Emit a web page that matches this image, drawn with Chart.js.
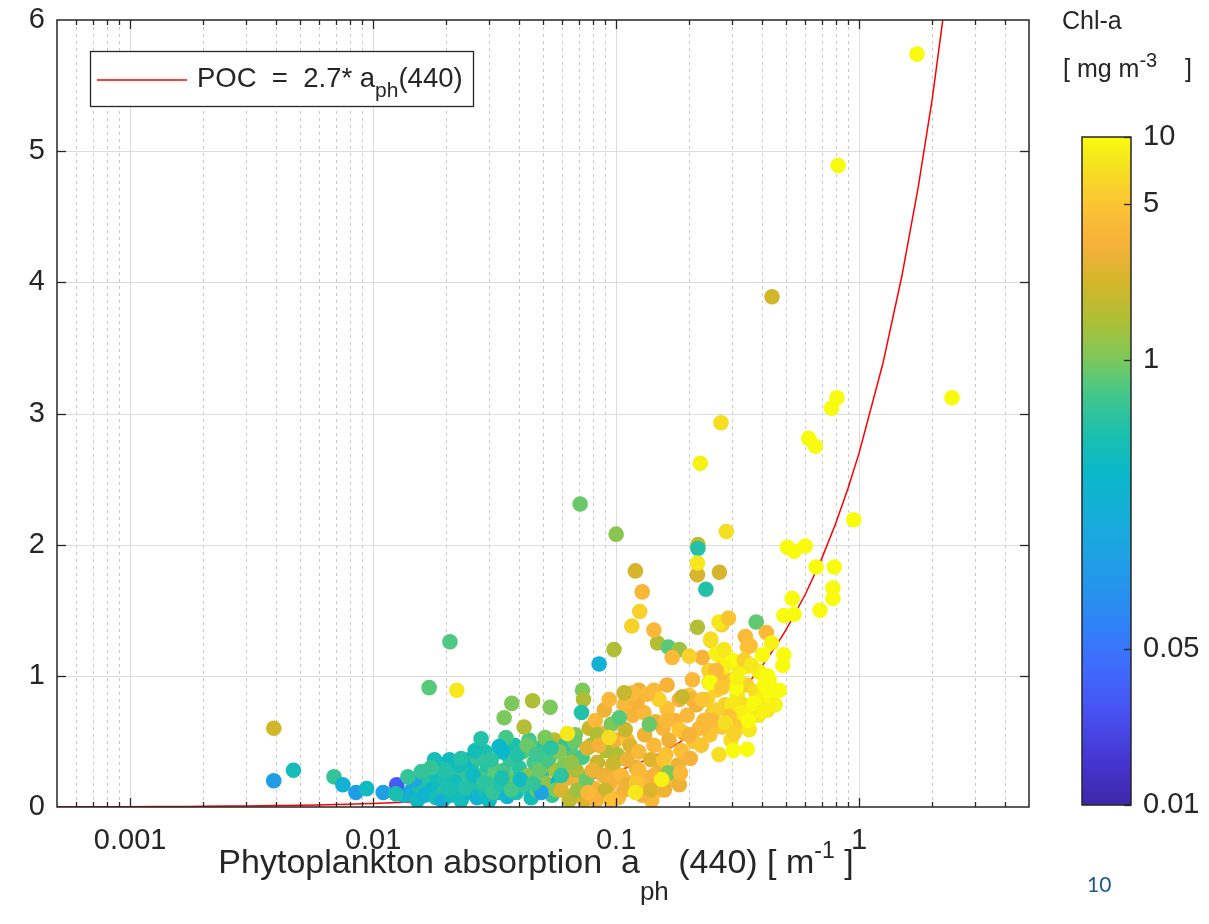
<!DOCTYPE html>
<html>
<head>
<meta charset="utf-8">
<title>POC vs phytoplankton absorption</title>
<script src="https://cdn.jsdelivr.net/npm/chart.js@4.4.1/dist/chart.umd.min.js"></script>
<style>
  html, body { margin: 0; padding: 0; background: #ffffff; }
  #wrap { position: relative; width: 1209px; height: 924px; overflow: hidden; }
  #main { position: absolute; left: 0; top: 0; }
  #cbar { position: absolute; left: 1040px; top: 100px; }
</style>
</head>
<body>
<div id="wrap">
  <canvas id="main" width="1209" height="924"></canvas>
  <canvas id="cbar" width="169" height="760"></canvas>
</div>
<script>
// ---- samples: a_ph(440) [m^-1], POC, Chl-a [mg m^-3] ----
const aph = [
  // 0.013 - 0.02
  0.0134,0.0144,0.0152,0.0155,0.0163,0.0168,0.0174,0.0182,0.0187,0.0195,0.0148,0.0158,0.0183,0.0193,
  // 0.02 - 0.033
  0.0199,0.0208,0.0215,0.0221,0.0230,0.0237,0.0243,0.0253,0.0260,0.0268,0.0278,0.0286,0.0294,0.0300,0.0309,0.0318,0.0327,0.0289,0.0248,0.0226,0.0206,0.0268,
  0.0197,0.0217,0.0239,0.0258,0.0284,0.0312,
  // 0.033 - 0.058
  0.0336,0.0346,0.0356,0.0366,0.0377,0.0388,0.0399,0.0411,0.0422,0.0434,0.0447,0.0460,0.0473,0.0487,0.0500,0.0515,0.0530,0.0545,0.0561,0.0577,0.0381,0.0438,0.0505,0.0556,0.0340,0.0492,
  0.0339,0.0370,0.0403,0.0456,0.0482,0.0520,0.0566,
  // 0.058 - 0.10
  0.0594,0.0611,0.0629,0.0647,0.0666,0.0685,0.0705,0.0725,0.0746,0.0768,0.0790,0.0813,0.0837,0.0861,0.0886,0.0911,0.0937,0.0964,0.0992,0.102,0.0617,0.0679,0.0775,0.0878,0.0955,0.0821,0.0739,0.0641,
  0.0594,0.0654,0.0692,0.0753,0.0798,0.0902,0.0983,0.101,
  // dense band
  0.0230,0.0263,0.0306,0.0352,0.0392,0.0430,0.0469,0.0583,0.0673,0.0761,0.0837,0.0894,0.108,0.124,0.143,0.162,0.0851,0.111,0.0983,0.124,0.140,0.0829,0.0955,0.0206,0.0179,
  // 0.10 - 0.22
  0.105,0.108,0.111,0.114,0.118,0.121,0.124,0.128,0.131,0.135,0.139,0.143,0.147,0.151,0.156,0.160,0.165,0.170,0.175,0.180,0.185,0.191,0.196,0.202,0.208,0.214,0.220,0.109,0.117,0.130,0.145,0.162,0.182,0.200,0.122,0.150,0.182,
  0.111,0.130,0.139,0.158,
  // 0.22 - 0.47
  0.224,0.230,0.237,0.243,0.250,0.258,0.265,0.272,0.281,0.289,0.297,0.306,0.315,0.324,0.334,0.344,0.353,0.364,0.374,0.385,0.396,0.407,0.419,0.435,0.451,0.241,0.278,0.321,0.388,0.426,0.469,
  0.300,0.330,0.292,0.258,0.248,0.226,0.241,0.265,0.312,0.344,0.347,0.272,0.245,0.265,0.300,0.278,0.226,0.369,
  // upper part of the cloud
  0.148,0.164,0.182,0.170,0.200,0.245,0.340,0.356,0.258,0.278,0.337,0.360,0.258,0.315,0.245,0.272,0.206,0.206,0.226,0.187,0.150,0.134,0.117,0.0936,0.108,0.137,0.103,0.350,0.400,0.281,0.306,0.161,0.182,0.200,0.124,0.143,0.157,0.164,0.184,0.154,0.121,0.120,0.0768,
  // scattered low-absorption stations
  0.0039,0.0039,0.0047,0.0069,0.0075,0.0085,0.0094,0.0110,0.0126,0.0125,0.0124,0.0139,0.0170,0.0173,0.0207,0.0221,0.0278,0.0372,0.0346,0.0453,0.0418,0.0510,0.0330,0.0851,0.0980,0.0727,0.0734,0.0720,0.0630,0.0936,0.0540,0.0535,
  // high POC stations
  1.73,0.82,0.438,2.41,0.81,0.77,0.62,0.66,0.27,0.222,0.0711,0.100,0.284,0.217,0.217,0.216,0.216,0.266,0.234,0.120,0.128,0.125,0.116,0.143,0.216,0.265,0.290,0.377,0.95,
  0.506,0.54,0.60,0.665,0.79,0.78,0.78,0.69,0.53,0.49,0.54,
  0.415,0.436,0.40,0.49,0.485,0.42,0.303,0.346
];
const poc = [
  0.09,0.13,0.05,0.16,0.09,0.21,0.13,0.07,0.17,0.11,0.21,0.27,0.24,0.05,
  0.21,0.09,0.28,0.14,0.05,0.22,0.11,0.30,0.17,0.07,0.24,0.13,0.32,0.05,0.19,0.28,0.11,0.42,0.36,0.32,0.36,0.37,
  0.28,0.19,0.14,0.24,0.18,0.11,
  0.17,0.28,0.08,0.36,0.21,0.11,0.30,0.42,0.16,0.24,0.07,0.34,0.13,0.45,0.27,0.18,0.37,0.09,0.28,0.19,0.47,0.51,0.47,0.51,0.42,0.11,
  0.22,0.13,0.21,0.18,0.28,0.36,0.13,
  0.13,0.32,0.22,0.43,0.09,0.28,0.17,0.38,0.07,0.24,0.47,0.14,0.34,0.09,0.24,0.43,0.17,0.32,0.51,0.07,0.47,0.55,0.60,0.56,0.63,0.66,0.05,0.05,
  0.24,0.34,0.13,0.21,0.28,0.13,0.22,0.40,
  0.37,0.43,0.36,0.53,0.40,0.47,0.40,0.42,0.50,0.45,0.55,0.74,0.78,0.89,0.89,0.93,0.47,0.51,0.34,0.13,0.05,0.05,0.05,0.13,0.36,
  0.24,0.13,0.36,0.47,0.19,0.30,0.42,0.09,0.55,0.22,0.36,0.47,0.15,0.28,0.60,0.40,0.51,0.21,0.66,0.32,0.43,0.56,0.70,0.37,0.50,0.78,0.60,0.59,0.70,0.72,0.65,0.75,0.82,0.85,0.80,0.13,0.17,
  0.17,0.17,0.13,0.13,
  0.47,0.66,0.82,0.55,0.72,0.89,0.40,0.61,0.78,0.97,0.51,0.68,0.85,0.62,0.78,0.93,0.59,0.74,0.88,0.70,0.82,0.93,0.74,0.85,0.78,1.04,1.12,1.06,1.03,0.97,0.89,
  0.78,0.72,0.69,0.74,0.66,0.61,0.95,0.99,0.91,1.07,1.22,1.39,1.27,1.16,1.12,1.07,1.14,0.79,
  1.25,1.22,1.20,1.14,1.15,1.28,1.30,1.23,1.17,1.20,1.12,1.08,1.04,0.99,0.95,0.91,0.97,0.82,0.82,0.84,0.82,0.86,0.87,0.82,0.87,0.63,0.68,0.66,0.73,0.64,0.56,0.66,0.59,0.55,0.28,0.24,0.36,0.26,0.26,0.21,0.18,0.11,0.11,
  0.20,0.60,0.28,0.23,0.17,0.11,0.14,0.11,0.11,0.17,0.10,0.23,0.91,0.30,1.26,0.89,0.52,0.79,0.68,0.81,0.61,0.53,0.46,1.09,1.20,0.89,0.82,0.72,0.56,0.53,0.45,0.76,
  5.74,4.89,3.89,3.12,3.12,3.04,2.81,2.75,2.93,2.62,2.31,2.08,2.10,2.00,1.97,1.77,1.86,1.79,1.66,1.80,1.64,1.49,1.38,1.35,1.37,1.41,1.44,1.41,2.19,
  1.98,1.95,1.99,1.83,1.83,1.67,1.59,1.50,1.59,1.46,1.47,
  1.33,1.25,1.16,1.16,1.08,1.00,0.43,0.44
];
const chl = [
  0.3,0.2,0.35,0.45,0.25,0.5,0.3,0.4,0.35,0.5,0.15,0.6,0.4,0.2,
  0.45,0.35,0.55,0.3,0.4,0.6,0.3,0.45,0.5,0.25,0.7,0.4,0.5,0.35,0.6,0.8,0.4,0.45,0.3,0.4,0.35,0.6,
  0.5,0.4,0.5,0.35,0.55,0.6,
  0.5,0.7,0.25,0.6,0.9,0.45,0.55,0.8,0.6,1.1,0.4,0.7,0.9,1.0,0.5,1.2,0.8,0.6,1.4,0.3,0.45,0.7,0.6,1.8,0.3,0.15,
  0.45,0.7,0.35,0.6,0.9,0.7,1.0,
  2.5,1.0,3.0,0.8,2.0,1.5,3.5,0.7,3.0,2.5,1.2,3.5,2.0,4.0,3.0,1.5,3.5,2.5,3.0,4.0,0.6,1.0,2.0,3.5,1.0,4.0,2.5,1.8,
  0.55,1.2,1.3,0.9,3.0,2.0,3.5,1.5,
  0.5,0.4,0.55,0.7,0.5,0.9,0.65,1.1,0.9,2.5,1.5,3.0,4.0,3.0,4.0,3.5,3.5,4.5,2.0,3.0,4.0,3.5,4.5,0.45,0.4,
  4.0,3.5,3.0,2.5,4.5,3.0,4.0,3.5,3.0,4.0,2.5,4.0,3.5,3.0,3.5,4.5,3.0,4.0,3.5,3.0,4.5,2.5,4.0,3.5,5.0,3.0,4.0,2.0,3.5,4.0,3.0,4.5,3.5,5.0,3.5,4.5,3.0,
  3.0,4.0,2.5,3.0,
  5,4,6,5,4.5,6,7,5,6,5,7,6,8,5.5,7,6,8,9,7,8,9,10,8,10,9,6,7,8,9,10,10,
  8,9,5,6,4,4,8,4,10,9,5,6,6,8,10,9,3.5,10,
  1.6,0.8,1.3,4,6,7,4,4.5,9,8,6,8,4,9,10,5,4,3.5,5,2,6,4,4,4,2,0.9,0.8,10,9,7,6,4,5,3.5,4,3.5,5,1.0,4,9,5,8,4,
  0.12,2.2,0.4,0.6,0.22,0.12,0.35,0.13,0.12,0.03,0.45,0.6,0.8,0.6,0.75,8,0.5,1.0,1.0,1.5,1.6,1.0,0.3,0.22,1.5,1.0,1.5,0.5,8,7,0.55,1.0,
  10,10,2.2,10,10,10,10,10,7,9,0.9,1.1,7,1.8,0.5,2.3,8,2.3,0.5,2.3,3.8,6,6,4,1.6,8,5,0.85,10,
  10,10,10,10,10,10,10,10,10,10,10,
  4,9,10,10,10,10,10,10
];

// Linear fit POC = 2.7 * a_ph(440)
const FIT_SLOPE = 2.7;
const fitMultiples = [1, 1.25, 1.5, 1.75, 2, 2.5, 3, 3.5, 4, 4.5, 5, 6, 7, 8, 9];
const fitDecades = [0.0001, 0.001, 0.01, 0.1, 1];

// Axis ticks
const xTickValues = [0.001, 0.01, 0.1, 1];
const xTickLabels = ['0.001', '0.01', '0.1', '1'];
const cbTickValues = [0.01, 0.05, 1, 5, 10];
const cbTickLabels = ['0.01', '0.05', '1', '5', '10'];

// Parula-like colour map: position (0..1), r, g, b
const PARULA = [
  [0.00, 62, 38, 168],
  [0.07, 70, 55, 212],
  [0.14, 71, 82, 242],
  [0.21, 62, 108, 253],
  [0.28, 46, 134, 246],
  [0.35, 34, 155, 232],
  [0.42, 24, 172, 220],
  [0.50, 10, 184, 200],
  [0.56, 30, 192, 172],
  [0.62, 72, 200, 135],
  [0.667, 124, 200, 90],
  [0.72, 170, 192, 56],
  [0.78, 210, 182, 42],
  [0.84, 246, 177, 58],
  [0.88, 252, 189, 55],
  [0.92, 250, 206, 45],
  [0.96, 245, 228, 30],
  [1.00, 249, 251, 14]
];

const FONT = '"Liberation Sans", Arial, Helvetica, sans-serif';
const INK = '#262626';
const TICK_SIZE = 29;

function parula(t) {
  t = Math.max(0, Math.min(1, t));
  for (let i = 1; i < PARULA.length; i++) {
    const a = PARULA[i - 1], b = PARULA[i];
    if (t <= b[0]) {
      const f = (t - a[0]) / (b[0] - a[0]);
      const c = [1, 2, 3].map(k => Math.round(a[k] + (b[k] - a[k]) * f));
      return 'rgb(' + c.join(',') + ')';
    }
  }
  const l = PARULA[PARULA.length - 1];
  return 'rgb(' + l[1] + ',' + l[2] + ',' + l[3] + ')';
}
const chlToColor = c => parula((Math.log10(c) + 2) / 3);

const n = Math.min(aph.length, poc.length, chl.length);
const points = [];
const pointColors = [];
for (let i = 0; i < n; i++) {
  points.push({ x: aph[i], y: poc[i] });
  pointColors.push(chlToColor(chl[i]));
}
const fitPoints = [];
fitDecades.forEach(d => fitMultiples.forEach(m => {
  const x = m * d;
  if (x >= 0.0005 && x <= 2.5) fitPoints.push({ x: x, y: FIT_SLOPE * x });
}));

// Draws text pieces with sub/superscripts
function richText(ctx, parts, x, y, align) {
  let w = 0;
  parts.forEach(p => { ctx.font = p.size + 'px ' + FONT; w += ctx.measureText(p.t).width; });
  let cx = align === 'center' ? x - w / 2 : x;
  ctx.textBaseline = 'alphabetic';
  ctx.textAlign = 'left';
  parts.forEach(p => {
    ctx.font = p.size + 'px ' + FONT;
    ctx.fillText(p.t, cx, y + (p.dy || 0));
    cx += ctx.measureText(p.t).width;
  });
  return w;
}

const axesFrame = {
  id: 'axesFrame',
  beforeDatasetsDraw(chart) {
    const { ctx, chartArea: a, scales: { x, y } } = chart;
    ctx.save();
    // minor log grid (dotted)
    ctx.strokeStyle = '#c8c8c8';
    ctx.lineWidth = 1;
    ctx.setLineDash([3, 4]);
    for (let e = -4; e <= 0; e++) {
      for (let k = 2; k <= 9; k++) {
        const v = k * Math.pow(10, e);
        if (v <= x.min * 1.0001 || v >= x.max * 0.9999) continue;
        const px = Math.round(x.getPixelForValue(v)) + 0.5;
        ctx.beginPath(); ctx.moveTo(px, a.top); ctx.lineTo(px, a.bottom); ctx.stroke();
      }
    }
    // major grid (solid)
    ctx.setLineDash([]);
    ctx.strokeStyle = '#dcdcdc';
    xTickValues.forEach(v => {
      const px = Math.round(x.getPixelForValue(v)) + 0.5;
      ctx.beginPath(); ctx.moveTo(px, a.top); ctx.lineTo(px, a.bottom); ctx.stroke();
    });
    for (let v = 1; v < 6; v++) {
      const py = Math.round(y.getPixelForValue(v)) + 0.5;
      ctx.beginPath(); ctx.moveTo(a.left, py); ctx.lineTo(a.right, py); ctx.stroke();
    }
    ctx.restore();
  },
  afterDatasetsDraw(chart) {
    const { ctx, chartArea: a, scales: { x, y } } = chart;
    ctx.save();
    ctx.strokeStyle = INK;
    ctx.lineWidth = 1.5;
    ctx.strokeRect(a.left, a.top, a.right - a.left, a.bottom - a.top);
    ctx.lineWidth = 1.3;
    const tick = (x1, y1, x2, y2) => { ctx.beginPath(); ctx.moveTo(x1, y1); ctx.lineTo(x2, y2); ctx.stroke(); };
    for (let e = -4; e <= 0; e++) {
      for (let k = 1; k <= 9; k++) {
        const v = k * Math.pow(10, e);
        if (v <= x.min * 1.0001 || v >= x.max * 0.9999) continue;
        const px = Math.round(x.getPixelForValue(v)) + 0.5;
        const len = k === 1 ? 9 : 5;
        tick(px, a.bottom, px, a.bottom - len);
        tick(px, a.top, px, a.top + len);
      }
    }
    for (let v = 1; v < 6; v++) {
      const py = Math.round(y.getPixelForValue(v)) + 0.5;
      tick(a.left, py, a.left + 9, py);
      tick(a.right, py, a.right - 9, py);
    }
    ctx.restore();
  },
  afterDraw(chart) {
    const { ctx } = chart;
    ctx.save();

    // legend
    const lx = 90, ly = 51, lw = 383, lh = 55;
    ctx.fillStyle = '#ffffff';
    ctx.fillRect(lx, ly, lw, lh);
    ctx.strokeStyle = INK;
    ctx.lineWidth = 1.3;
    ctx.strokeRect(lx + 0.5, ly + 0.5, lw, lh);
    ctx.strokeStyle = '#ff0000';
    ctx.lineWidth = 1.5;
    ctx.beginPath(); ctx.moveTo(97, 80); ctx.lineTo(187, 80); ctx.stroke();
    ctx.fillStyle = INK;
    richText(ctx, [
      { t: 'POC  =  2.7* a', size: 27.5 },
      { t: 'ph', size: 21, dy: 10 },
      { t: '(440)', size: 27.5 }
    ], 197, 87, 'left');

    // x-axis title
    richText(ctx, [
      { t: 'Phytoplankton absorption  a', size: 34 },
      { t: 'ph', size: 26, dy: 27 },
      { t: ' (440) [ m', size: 34 },
      { t: '-1', size: 23, dy: -15 },
      { t: ' ]', size: 34 }
    ], 536, 873, 'center');

    // colour bar title
    richText(ctx, [{ t: 'Chl-a', size: 25 }], 1062, 29, 'left');
    richText(ctx, [
      { t: '[ mg m', size: 25 },
      { t: '-3', size: 20, dy: -10 },
      { t: '    ]', size: 25 }
    ], 1063, 77, 'left');

    // page number
    ctx.fillStyle = '#1d5a86';
    ctx.font = '21px Lato, "Open Sans", sans-serif';
    ctx.textAlign = 'left';
    ctx.textBaseline = 'alphabetic';
    ctx.fillText('10', 1087, 892);
    ctx.restore();
  }
};

new Chart(document.getElementById('main'), {
  type: 'scatter',
  data: {
    datasets: [
      {
        type: 'scatter',
        label: 'samples',
        data: points,
        backgroundColor: pointColors,
        borderWidth: 0,
        pointRadius: 7.8,
        pointHoverRadius: 7.8,
        order: 0
      },
      {
        type: 'line',
        label: 'POC = 2.7* a_ph(440)',
        data: fitPoints,
        borderColor: '#ff0000',
        borderWidth: 1.5,
        pointRadius: 0,
        fill: false,
        tension: 0,
        order: 1
      }
    ]
  },
  options: {
    responsive: false,
    animation: false,
    events: [],
    layout: { padding: { left: 0, top: 20, right: 180, bottom: 0 } },
    plugins: { legend: { display: false }, tooltip: { enabled: false } },
    scales: {
      x: {
        type: 'logarithmic',
        min: 0.0005,
        max: 5,
        afterBuildTicks: s => { s.ticks = xTickValues.map(v => ({ value: v })); },
        afterFit: s => { s.height = 117; s.paddingLeft = 0; s.paddingRight = 0; },
        grid: { display: false, drawTicks: false },
        border: { display: false },
        ticks: {
          autoSkip: false,
          maxRotation: 0,
          padding: 17,
          color: INK,
          font: { family: FONT, size: TICK_SIZE },
          callback: v => { const i = xTickValues.indexOf(v); return i >= 0 ? xTickLabels[i] : ''; }
        }
      },
      y: {
        type: 'linear',
        min: 0,
        max: 6,
        afterFit: s => { s.width = 57; s.paddingTop = 0; s.paddingBottom = 0; },
        grid: { display: false, drawTicks: false },
        border: { display: false },
        ticks: {
          stepSize: 1,
          padding: 12,
          color: INK,
          font: { family: FONT, size: TICK_SIZE }
        }
      }
    }
  },
  plugins: [axesFrame]
});

// ---- colour bar ----
const cbTicks = {
  id: 'cbTicks',
  afterDatasetsDraw(chart) {
    const { ctx, chartArea: a, scales: { y } } = chart;
    ctx.save();
    ctx.strokeStyle = INK;
    ctx.lineWidth = 1.3;
    cbTickValues.forEach(v => {
      const py = Math.round(y.getPixelForValue(v)) + 0.5;
      ctx.beginPath(); ctx.moveTo(a.right - 7, py); ctx.lineTo(a.right, py); ctx.stroke();
    });
    ctx.lineWidth = 1.5;
    ctx.strokeRect(a.left, a.top, a.right - a.left, a.bottom - a.top);
    ctx.restore();
  }
};

new Chart(document.getElementById('cbar'), {
  type: 'bar',
  data: {
    labels: ['Chl-a'],
    datasets: [{
      data: [[0.01, 10]],
      borderWidth: 0,
      barPercentage: 1,
      categoryPercentage: 1,
      backgroundColor: (c) => {
        const area = c.chart.chartArea;
        if (!area) return '#888';
        const g = c.chart.ctx.createLinearGradient(0, area.bottom, 0, area.top);
        PARULA.forEach(s => g.addColorStop(s[0], 'rgb(' + s[1] + ',' + s[2] + ',' + s[3] + ')'));
        return g;
      }
    }]
  },
  options: {
    responsive: false,
    animation: false,
    events: [],
    layout: { padding: { left: 42, top: 37, bottom: 55, right: 0 } },
    plugins: { legend: { display: false }, tooltip: { enabled: false } },
    scales: {
      x: { display: false },
      y: {
        type: 'logarithmic',
        position: 'right',
        min: 0.01,
        max: 10,
        afterBuildTicks: s => { s.ticks = cbTickValues.map(v => ({ value: v })); },
        afterFit: s => { s.width = 78; s.paddingTop = 0; s.paddingBottom = 0; },
        grid: { display: false, drawTicks: false },
        border: { display: false },
        ticks: {
          autoSkip: false,
          padding: 12,
          color: INK,
          font: { family: FONT, size: TICK_SIZE },
          callback: v => { const i = cbTickValues.indexOf(v); return i >= 0 ? cbTickLabels[i] : ''; }
        }
      }
    }
  },
  plugins: [cbTicks]
});
</script>
</body>
</html>
